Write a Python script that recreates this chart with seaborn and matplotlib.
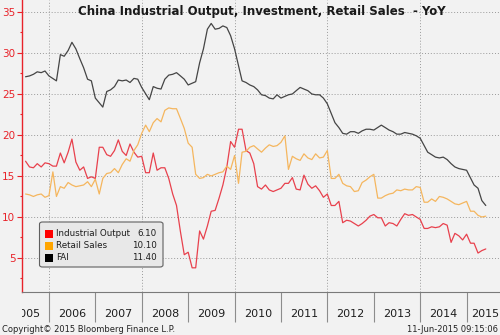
import matplotlib
matplotlib.use("Agg")
import matplotlib.pyplot as plt
from matplotlib.patches import FancyBboxPatch, Rectangle
from matplotlib.ticker import MultipleLocator, NullFormatter
from matplotlib.transforms import blended_transform_factory, Bbox, TransformedBbox
import pandas as pd
import seaborn as sns

TITLE = "China Industrial Output, Investment, Retail Sales  - YoY"
SERIES = ["Industrial Output", "Retail Sales", "FAI"]
YEARS = list(range(2005, 2016))
Y_TICKS = [5, 10, 15, 20, 25, 30, 35]

# Monthly YoY %, Jun-2005 .. May-2015
industrial_output = [
    16.8, 16.1, 16.0, 16.5, 16.1, 16.6, 16.5,
    16.2, 16.2, 17.8, 16.6, 17.9, 19.5, 16.7, 15.7, 16.1, 14.7, 14.9, 14.7,
    18.5, 18.5, 17.6, 17.4, 18.1, 19.4, 18.0, 17.5, 18.9, 17.9, 17.3, 17.4,
    15.4, 15.4, 17.8, 15.7, 16.0, 16.0, 14.7, 12.8, 11.4, 8.2, 5.4, 5.7,
    3.8, 3.8, 8.3, 7.3, 8.9, 10.7, 10.8, 12.3, 13.9, 16.1, 19.2, 18.5,
    20.7, 20.7, 18.1, 17.8, 16.5, 13.7, 13.4, 13.9, 13.3, 13.1, 13.3, 13.5,
    14.1, 14.1, 14.8, 13.4, 13.3, 15.1, 14.0, 13.5, 13.8, 13.2, 12.4, 12.8,
    11.4, 11.4, 11.9, 9.3, 9.6, 9.5, 9.2, 8.9, 9.2, 9.6, 10.1, 10.3,
    9.9, 9.9, 8.9, 9.3, 9.2, 8.9, 9.7, 10.4, 10.2, 10.3, 10.0, 9.7,
    8.6, 8.6, 8.8, 8.7, 8.8, 9.2, 9.0, 6.9, 8.0, 7.7, 7.2, 7.9,
    6.8, 6.8, 5.6, 5.9, 6.1,
]

retail_sales = [
    12.8, 12.7, 12.5, 12.7, 12.8, 12.4, 12.6,
    15.5, 12.5, 13.7, 13.5, 14.2, 13.9, 13.7, 13.8, 13.9, 14.3, 13.7, 14.6,
    12.8, 14.7, 15.3, 15.4, 15.9, 15.4, 16.4, 17.1, 16.8, 18.1, 18.8, 20.2,
    21.2, 20.4, 21.5, 22.0, 21.6, 23.0, 23.3, 23.2, 23.2, 22.0, 20.8, 19.0,
    18.5, 15.2, 14.7, 14.8, 15.2, 15.0, 15.2, 15.4, 15.5, 16.2, 15.8, 17.5,
    14.1, 17.9, 18.0, 18.5, 18.7, 18.3, 17.9, 18.4, 18.8, 18.6, 18.7, 19.1,
    19.9, 15.8, 17.4, 17.1, 16.9, 17.7, 17.2, 17.0, 17.7, 17.2, 17.3, 18.1,
    14.7, 14.7, 15.2, 14.1, 13.8, 13.7, 13.1, 13.2, 14.2, 14.5, 14.9, 15.2,
    12.3, 12.3, 12.6, 12.8, 12.9, 13.3, 13.2, 13.4, 13.3, 13.3, 13.7, 13.6,
    11.8, 11.8, 12.2, 11.9, 12.5, 12.4, 12.2, 11.9, 11.6, 11.5, 11.7, 11.9,
    10.7, 10.7, 10.2, 10.0, 10.1,
]

# Fixed asset investment, YTD YoY % (no January prints)
fai = [
    27.1, 27.2, 27.4, 27.7, 27.6, 27.8, 27.2,
    26.6, 29.8, 29.6, 30.3, 31.3, 30.5, 29.3, 28.2, 26.8, 26.6, 24.5,
    23.4, 25.3, 25.5, 25.9, 26.7, 26.6, 26.7, 26.4, 26.9, 26.8, 25.8,
    24.3, 25.9, 25.7, 25.6, 26.8, 27.3, 27.4, 27.6, 27.2, 26.8, 26.1,
    26.5, 28.8, 30.5, 32.9, 33.6, 32.9, 33.0, 33.3, 33.1, 32.1, 30.5,
    26.6, 26.4, 26.1, 25.9, 25.5, 24.9, 24.8, 24.5, 24.4, 24.9, 24.5,
    24.9, 25.0, 25.4, 25.8, 25.6, 25.4, 25.0, 24.9, 24.9, 24.5, 23.8,
    21.5, 20.9, 20.2, 20.1, 20.4, 20.4, 20.2, 20.5, 20.7, 20.7, 20.6,
    21.2, 20.9, 20.6, 20.4, 20.1, 20.1, 20.3, 20.2, 20.1, 19.9, 19.6,
    17.9, 17.6, 17.3, 17.2, 17.3, 17.0, 16.5, 16.1, 15.9, 15.8, 15.7,
    13.9, 13.5, 12.0, 11.4,
]

months = pd.date_range("2005-06-01", periods=len(industrial_output), freq="MS") + pd.offsets.MonthEnd(0)
fai_months = months[months.month != 1]

df = pd.concat([
    pd.DataFrame({"date": months, "value": industrial_output, "series": SERIES[0]}),
    pd.DataFrame({"date": months, "value": retail_sales, "series": SERIES[1]}),
    pd.DataFrame({"date": fai_months, "value": fai, "series": SERIES[2]}),
], ignore_index=True)
last_values = {s: df[df.series == s]["value"].iloc[-1] for s in SERIES}

sns.set_theme(style="white")
plt.rcParams["font.family"] = ["DejaVu Sans"]

BG = "#f2f2f2"
RED = "#e8232a"
W, H = 500, 335

fig = plt.figure(figsize=(W / 100, H / 100), dpi=100, facecolor=BG)
ax = fig.add_axes([22 / W, 43 / H, 478 / W, 292 / H])
ax.set_facecolor(BG)

line_colors = {"Industrial Output": "#e8414d", "Retail Sales": "#f5b65e", "FAI": "#454545"}
sns.lineplot(data=df, x="date", y="value", hue="series", hue_order=SERIES,
             palette=line_colors, estimator=None, linewidth=0.9,
             legend=False, ax=ax)

ax.set_xlim(pd.Timestamp("2005-06-02"), pd.Timestamp("2015-09-20"))
ax.set_ylim(0.85, 36.46)
ax.set_xlabel("")
ax.set_ylabel("")

# y axis: red spine, ticks and labels
ax.set_yticks(Y_TICKS)
ax.yaxis.set_minor_locator(MultipleLocator(2.5))
ax.tick_params(axis="y", which="major", colors=RED, length=3.6, width=0.8,
               pad=1.2, labelsize=7.5, direction="out", left=True)
ax.tick_params(axis="y", which="minor", colors=RED, length=1.8, width=0.8,
               direction="out", left=True)

# x axis: year separators (even years carry the vertical grid)
even_years = [pd.Timestamp(f"{y}-01-01") for y in YEARS[1:] if y % 2 == 0]
odd_years = [pd.Timestamp(f"{y}-01-01") for y in YEARS[1:] if y % 2 == 1]
ax.set_xticks(even_years)
ax.set_xticks(odd_years, minor=True)
ax.xaxis.set_major_formatter(NullFormatter())
ax.xaxis.set_minor_formatter(NullFormatter())
ax.tick_params(axis="x", which="both", length=21.6, width=0.8, color="#8c8c8c",
               direction="out", bottom=True, labelbottom=False)

ax.grid(axis="both", which="major", linestyle=(0, (1, 2)), color="#9a9a9a", linewidth=0.7)

for side in ("top", "right"):
    ax.spines[side].set_visible(False)
ax.spines["left"].set_color(RED)
ax.spines["left"].set_linewidth(1.0)
ax.spines["bottom"].set_color("#7a7a7a")
ax.spines["bottom"].set_linewidth(0.8)

# Year labels centred within each year, clipped to the axis width;
# the last (partial) year is pinned to the right edge
label_tf = blended_transform_factory(ax.transData, ax.transAxes)
edge_tf = ax.transAxes
clip = TransformedBbox(Bbox([[0, -1], [1, 1]]), ax.transAxes)
for y in YEARS:
    if y == YEARS[-1]:
        t = ax.text(0.999, -0.0753, str(y), transform=edge_tf,
                    ha="right", va="center", fontsize=8, color="#1e1e1e")
    else:
        t = ax.text(pd.Timestamp(f"{y}-07-02"), -0.0753, str(y), transform=label_tf,
                    ha="center", va="center", fontsize=8, color="#1e1e1e")
        t.set_clip_path(None)
        t.set_clip_box(clip)
        t.set_clip_on(True)

# Title inside the plot area
fig.text(262 / W, 1 - 11 / H, TITLE, ha="center", va="center",
         fontsize=8.5, fontweight="bold", color="#1a1a1a")

# Legend box with latest values
def px(x, y):
    return x / W, 1 - y / H

bx0, by0 = px(39.5, 267)
box = FancyBboxPatch((bx0, by0), 123.5 / W, 45 / H,
                     boxstyle="round,pad=0,rounding_size=0.006",
                     transform=fig.transFigure, facecolor="#e8e8e8",
                     edgecolor="#606060", linewidth=0.8, zorder=5)
fig.add_artist(box)
swatch = {"Industrial Output": "#ff0000", "Retail Sales": "#ffa500", "FAI": "#000000"}
for i, s in enumerate(SERIES):
    yc = 234 + i * 11.8
    sx, sy = px(45, yc + 4)
    fig.add_artist(Rectangle((sx, sy), 8 / W, 8 / H, transform=fig.transFigure,
                             facecolor=swatch[s], edgecolor="none", zorder=6))
    fig.text(*px(56.5, yc), s, ha="left", va="center", fontsize=6.3,
             color="#1e1e1e", zorder=6)
    fig.text(*px(157, yc), f"{last_values[s]:.2f}", ha="right", va="center",
             fontsize=6.3, color="#1e1e1e", zorder=6)

# Footer
fig.text(*px(1.5, 329), "Copyright\u00a9 2015 Bloomberg Finance L.P.", ha="left",
         va="center", fontsize=6.0, color="#222222")
fig.text(*px(498, 329), "11-Jun-2015 09:15:06", ha="right", va="center",
         fontsize=6.0, color="#222222")

fig.savefig("out.png", dpi=100, facecolor=BG)
